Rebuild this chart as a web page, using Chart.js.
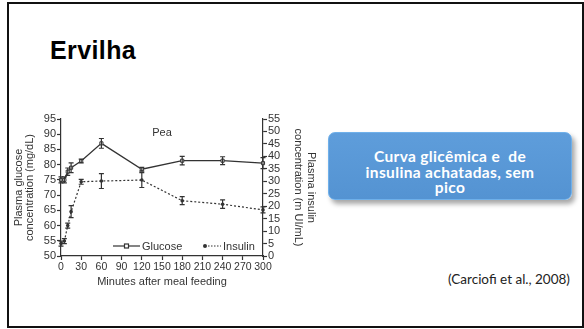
<!DOCTYPE html>
<html>
<head>
<meta charset="utf-8">
<script src="https://cdn.jsdelivr.net/npm/chart.js@4"></script>
<style>
    body { margin: 0; background: #fff; width: 584px; height: 329px; position: relative; overflow: hidden; }
    .frame { position: absolute; left: 7px; top: 2px; width: 573px; height: 322px; border: 2px solid #111; }
    .title { position: absolute; left: 50px; top: 36px; font: bold 25px "Liberation Sans", Arial, sans-serif; letter-spacing: 0.4px; color: #000; }
    .note { position: absolute; left: 328px; top: 132px; width: 244px; height: 68px; border-radius: 7px;
        background: linear-gradient(#5e9ddb, #5493d2); border: 1px solid #6fb0ea;
        box-shadow: 3px 4px 5px rgba(0,0,0,0.35); box-sizing: border-box;
        text-align: center; color: #fff; font: bold 15.5px/15.5px Lato, sans-serif; letter-spacing: 0.35px; padding-top: 16px; }
    .cite { position: absolute; left: 448px; top: 271px; font: 13.5px Lato, sans-serif; color: #222; }
    #chart { position: absolute; left: 0; top: 100px; }
</style>
</head>
<body>
<div class="frame"></div>
<div class="title">Ervilha</div>
<div class="note">Curva glicêmica e&nbsp; de<br>insulina achatadas, sem<br>pico</div>
<div class="cite">(Carciofi et al., 2008)</div>
<canvas id="chart" width="330" height="200"></canvas>
<script>
const minutes = [0, 5, 10, 15, 30, 60, 120, 180, 240, 300]
const glucose = [75, 75, 77.7, 79, 81.2, 87, 78.5, 81.3, 81.3, 80.5]
const glucoseErr = [1, 1, 1.2, 1.6, 0.6, 1.6, 0.6, 1.4, 1.3, 1.8]
const insulin = [5, 6, 12.2, 17.8, 29.8, 30.1, 30.5, 22.2, 20.8, 18.5]
const insulinErr = [1, 1, 1, 2.4, 1, 3, 3, 1.6, 1.7, 1.2]
const xTicks = [0, 30, 60, 90, 120, 150, 180, 210, 240, 270, 300]

const ink = '#333'
const font = "'Liberation Sans', Arial, sans-serif"

const errorBars = {
    id: 'errorBars',
    afterDatasetsDraw(chart) {
        const ctx = chart.ctx
        const sets = [[glucose, glucoseErr, 'y'], [insulin, insulinErr, 'y1']]
        ctx.save()
        ctx.strokeStyle = ink
        ctx.lineWidth = 1.2
        sets.forEach(([vals, errs, axis]) => {
            const ys = chart.scales[axis]
            vals.forEach((v, i) => {
                const x = chart.scales.x.getPixelForValue(minutes[i])
                const top = ys.getPixelForValue(v + errs[i])
                const bot = ys.getPixelForValue(v - errs[i])
                ctx.beginPath()
                ctx.moveTo(x, top); ctx.lineTo(x, bot)
                ctx.moveTo(x - 2.5, top); ctx.lineTo(x + 2.5, top)
                ctx.moveTo(x - 2.5, bot); ctx.lineTo(x + 2.5, bot)
                ctx.stroke()
            })
        })
        ctx.restore()
    }
}

const annotations = {
    id: 'annotations',
    afterDraw(chart) {
        const ctx = chart.ctx
        const area = chart.chartArea
        ctx.save()
        ctx.fillStyle = ink
        ctx.strokeStyle = ink
        ctx.font = '11px ' + font
        ctx.textBaseline = 'middle'
        ctx.textAlign = 'center'
        ctx.fillText('Pea', area.left + 101, area.top + 14)

        // legend
        const ly = area.bottom - 10
        ctx.textAlign = 'left'
        ctx.lineWidth = 1.2
        ctx.beginPath()
        ctx.moveTo(area.left + 52, ly); ctx.lineTo(area.left + 79, ly)
        ctx.stroke()
        ctx.fillStyle = '#fff'
        ctx.fillRect(area.left + 63.5, ly - 2, 4, 4)
        ctx.strokeRect(area.left + 63.5, ly - 2, 4, 4)
        ctx.fillStyle = ink
        ctx.fillText('Glucose', area.left + 81, ly + 0.5)

        ctx.beginPath()
        ctx.arc(area.left + 144, ly, 2, 0, Math.PI * 2)
        ctx.fill()
        ctx.setLineDash([1.5, 1.5])
        ctx.beginPath()
        ctx.moveTo(area.left + 147, ly); ctx.lineTo(area.left + 160, ly)
        ctx.stroke()
        ctx.setLineDash([])
        ctx.fillText('Insulin', area.left + 162, ly + 0.5)
        ctx.restore()
    }
}

const axisStyle = {
    border: { display: true, color: ink, width: 1.2 },
    grid: { drawOnChartArea: false, drawTicks: true, tickLength: 4, tickColor: ink, tickWidth: 1.2 },
}

new Chart(document.getElementById('chart'), {
    type: 'line',
    data: {
        datasets: [
            {
                label: 'Glucose',
                data: minutes.map((m, i) => ({ x: m, y: glucose[i] })),
                yAxisID: 'y',
                borderColor: ink,
                borderWidth: 1.3,
                pointStyle: 'rect',
                pointRadius: 2.2,
                pointBackgroundColor: '#fff',
                pointBorderColor: ink,
                pointBorderWidth: 1,
                tension: 0
            },
            {
                label: 'Insulin',
                data: minutes.map((m, i) => ({ x: m, y: insulin[i] })),
                yAxisID: 'y1',
                borderColor: ink,
                borderWidth: 1.2,
                borderDash: [2, 2],
                pointStyle: 'circle',
                pointRadius: 1.8,
                pointBackgroundColor: ink,
                pointBorderWidth: 0,
                tension: 0
            }
        ]
    },
    options: {
        responsive: false,
        animation: false,
        clip: false,
        layout: { padding: { left: 0, top: 19, right: 0, bottom: 0 } },
        plugins: { legend: { display: false }, tooltip: { enabled: false } },
        scales: {
            x: {
                type: 'linear', min: 0, max: 300,
                afterBuildTicks: scale => { scale.ticks = xTicks.map(v => ({ value: v })) },
                afterFit: scale => { scale.height = 44 },
                ticks: { autoSkip: false, maxRotation: 0, padding: 1, color: ink, font: { family: font, size: 10.5 } },
                title: { display: true, text: 'Minutes after meal feeding', color: ink, padding: { bottom: 11 }, font: { family: font, size: 11 } },
                ...axisStyle
            },
            y: {
                position: 'left', min: 50, max: 95,
                afterFit: scale => { scale.width = 61 },
                ticks: { stepSize: 5, autoSkip: false, padding: 1, color: ink, font: { family: font, size: 11 } },
                title: { display: true, text: ['Plasma glucose', 'concentration (mg/dL)'], color: ink, padding: { top: 13 }, font: { family: font, size: 11, lineHeight: 1.05 } },
                ...axisStyle
            },
            y1: {
                position: 'right', min: 0, max: 55,
                afterFit: scale => { scale.width = 67 },
                ticks: { stepSize: 5, autoSkip: false, padding: 1, color: ink, font: { family: font, size: 11 } },
                title: { display: true, text: ['Plasma insulin', 'concentration (m UI/mL)'], color: ink, padding: { top: 12.5 }, font: { family: font, size: 11, lineHeight: 1.15 } },
                ...axisStyle
            }
        }
    },
    plugins: [errorBars, annotations]
})
</script>
</body>
</html>
